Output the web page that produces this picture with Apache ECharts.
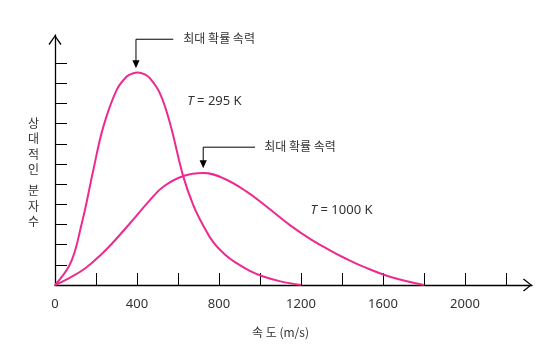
<!DOCTYPE html>
<html><head><meta charset="utf-8">
<script src="https://cdn.jsdelivr.net/npm/echarts@6/dist/echarts.min.js"></script>
<style>html,body{margin:0;padding:0;background:#fff}#c{width:560px;height:356px}</style>
</head><body><div id="c"></div>
<script>
// ---- data ----
const speeds295 = [0, 67, 99, 123, 148, 187, 236, 301, 350, 378, 406, 435, 463, 512, 561, 626, 675, 723, 772, 830, 886, 950, 1016, 1100, 1200];
const rel295    = [0, 0.91, 1.74, 2.73, 3.8, 5.70, 7.85, 9.67, 10.33, 10.48, 10.53, 10.45, 10.25, 9.50, 8.02, 5.37, 3.95, 2.95, 2.12, 1.5, 1.08, 0.7, 0.42, 0.18, 0];
const speeds1000 = [0, 67, 148, 229, 275, 366, 463, 528, 626, 723, 821, 935, 1033, 1146, 1250, 1341, 1420, 1504, 1634, 1800];
const rel1000    = [0, 0.33, 0.83, 1.55, 2.02, 3.06, 4.21, 4.87, 5.40, 5.55, 5.29, 4.63, 3.88, 2.97, 2.25, 1.72, 1.3, 0.91, 0.41, 0];
const xTickValues = [200, 400, 600, 800, 1000, 1200, 1400, 1600, 1800, 2000, 2200];
const xLabelValues = [0, 400, 800, 1200, 1600, 2000];
const yTickValues = [1, 2, 3, 4, 5, 6, 7, 8, 9, 10, 11];
const xAxisName = '속 도 (m/s)';
const yAxisNameTop = ['상', '대', '적', '인'];
const yAxisNameBottom = ['분', '자', '수'];
const peakText = '최대 확률 속력';
const tempTexts = ['295 K', '1000 K'];

// annotation anchors in data coordinates
const peakNotes = [
  { tip: [395, 10.74], elbowY: 12.18, endX: 577, textX: 626, textY: 12.23 },
  { tip: [723, 5.79], elbowY: 6.83, endX: 976, textX: 1021, textY: 6.89 }
];
const tempNotes = [[645, 9.12], [1247, 3.72]];

const PINK = '#ec2a8f';
const arrowPath = 'path://M6.5 0L13 8.1L11.9 9L6.5 1.8L1.1 9L0 8.1Z';
const arrowPathY = 'path://M6.5 0L13 9L11.9 10L6.5 2L1.1 10L0 9Z';

const chart = echarts.init(document.getElementById('c'), null, { renderer: 'canvas' });
const pairs = (xs, ys) => xs.map((x, i) => [x, ys[i]]);

chart.setOption({
  animation: false,
  backgroundColor: '#fff',
  grid: { left: 55, right: 28, top: 35, bottom: 71 },
  xAxis: {
    type: 'value', min: 0, max: 2327,
    axisLine: { show: true, lineStyle: { color: '#000', width: 1.3 },
      symbol: ['none', arrowPath], symbolSize: [13, 9], symbolOffset: [0, -4.5] },
    axisTick: { show: true, inside: true, length: 12, customValues: xTickValues,
      lineStyle: { color: '#000', width: 1 } },
    axisLabel: { show: true, customValues: xLabelValues, margin: 13, color: '#333',
      fontSize: 13, fontFamily: 'Noto Sans', formatter: (v) => String(v) },
    splitLine: { show: false }
  },
  yAxis: {
    type: 'value', min: 0, max: 12.39,
    axisLine: { show: true, lineStyle: { color: '#000', width: 1.3 },
      symbol: ['none', arrowPathY], symbolSize: [13, 10], symbolOffset: [0, -5] },
    axisTick: { show: true, inside: true, length: 12, customValues: yTickValues,
      lineStyle: { color: '#000', width: 1 } },
    axisLabel: { show: false },
    splitLine: { show: false }
  },
  series: [
    { type: 'line', data: pairs(speeds295, rel295), showSymbol: false, smooth: 0.4,
      lineStyle: { color: PINK, width: 2 }, itemStyle: { color: PINK }, z: 3 },
    { type: 'line', data: pairs(speeds1000, rel1000), showSymbol: false, smooth: 0.4,
      lineStyle: { color: PINK, width: 2 }, itemStyle: { color: PINK }, z: 3 }
  ]
});

const px = (p) => chart.convertToPixel({ gridIndex: 0 }, p);
const elements = [];
peakNotes.forEach((n) => {
  const tip = px(n.tip);
  const elbow = px([n.tip[0], n.elbowY]);
  const end = px([n.endX, n.elbowY]);
  const txt = px([n.textX, n.textY]);
  elements.push({ type: 'polyline', shape: { points: [[end[0], elbow[1]], [tip[0], elbow[1]], [tip[0], tip[1] - 6]] },
    style: { stroke: '#000', lineWidth: 1, fill: null }, silent: true });
  elements.push({ type: 'polygon', shape: { points: [[tip[0], tip[1]], [tip[0] - 3.6, tip[1] - 8], [tip[0] + 3.6, tip[1] - 8]] },
    style: { fill: '#000' }, silent: true });
  elements.push({ type: 'text', x: txt[0], y: txt[1],
    style: { text: peakText, fill: '#333', font: '12px "Noto Sans CJK KR"', verticalAlign: 'middle', align: 'left' }, silent: true });
});
tempNotes.forEach((t, i) => {
  const p = px(t);
  elements.push({ type: 'text', x: p[0], y: p[1],
    style: { text: '{i|T} = ' + tempTexts[i], fill: '#333', font: '13px "Noto Sans"', verticalAlign: 'middle', align: 'left',
      rich: { i: { fontStyle: 'italic', fontSize: 13, fontFamily: 'Noto Sans', fill: '#333' } } }, silent: true });
});
// axis names
elements.push({ type: 'text', x: 252, y: 332,
  style: { text: xAxisName, fill: '#333', font: '12px "Noto Sans CJK KR"', verticalAlign: 'middle', align: 'left' }, silent: true });
elements.push({ type: 'text', x: 33.5, y: 115.5,
  style: { text: yAxisNameTop.join('\n'), fill: '#333', font: '12px "Noto Sans CJK KR"', lineHeight: 15.5, verticalAlign: 'top', align: 'center' }, silent: true });
elements.push({ type: 'text', x: 33.5, y: 183,
  style: { text: yAxisNameBottom.join('\n'), fill: '#333', font: '12px "Noto Sans CJK KR"', lineHeight: 15.5, verticalAlign: 'top', align: 'center' }, silent: true });
chart.setOption({ graphic: { elements } });
</script>
</body></html>
